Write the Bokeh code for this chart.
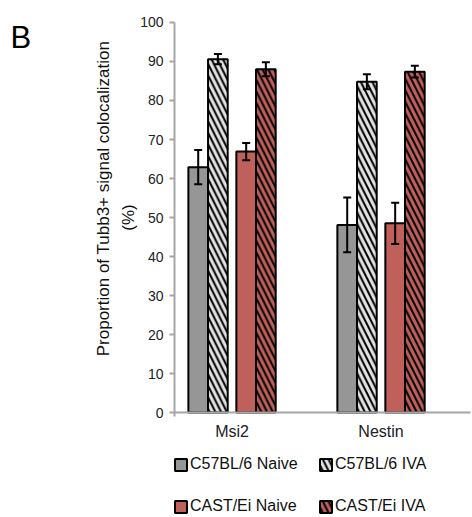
from math import pi
from bokeh.plotting import figure
from bokeh.models import (ColumnDataSource, Range1d, FixedTicker, Whisker, TeeHead,
                          Legend, LegendItem, Label)
from bokeh.embed import file_html
from bokeh.resources import INLINE

# ---------------- data ----------------
categories = ["Msi2", "Nestin"]
series_names = ["C57BL/6 Naive", "C57BL/6 IVA", "CAST/Ei Naive", "CAST/Ei IVA"]
c57_naive = [62.9, 48.1]
c57_naive_err = [4.4, 7.0]
c57_iva = [90.6, 84.8]
c57_iva_err = [1.3, 1.9]
cast_naive = [66.9, 48.5]
cast_naive_err = [2.2, 5.3]
cast_iva = [88.0, 87.4]
cast_iva_err = [1.8, 1.5]
y_ticks = [0, 10, 20, 30, 40, 50, 60, 70, 80, 90, 100]
y_title_1 = "Proportion of Tubb3+ signal colocalization"
y_title_2 = "(%)"
panel_letter = "B"

FONT = "Liberation Sans"
GRAY = "#969696"
RED = "#c0605a"
LIGHT = "#e4e4e4"
AXIS_GRAY = "#a6a6a6"

W, H = 472, 517
X0 = -0.386          # x position of the value axis
X1 = 1.60            # right end of the category axis line
p = figure(width=W, height=H, output_backend="svg", toolbar_location=None,
           x_range=Range1d(-1.554, 1.614), y_range=Range1d(-26.92, 105.64),
           min_border=0, min_border_left=0, min_border_right=0,
           min_border_top=0, min_border_bottom=0)
p.outline_line_color = None
p.grid.grid_line_color = None
p.background_fill_color = "white"
p.border_fill_color = "white"

offsets = [-0.227, -0.095, 0.095, 0.227]
bar_w = 0.132
styles = [
    dict(fill_color=GRAY),
    dict(fill_color=LIGHT, hatch_pattern="\\", hatch_color="black", hatch_scale=11.5, hatch_weight=2),
    dict(fill_color=RED),
    dict(fill_color=RED, hatch_pattern="\\", hatch_color="black", hatch_scale=11.5, hatch_weight=2),
]
vals = [c57_naive, c57_iva, cast_naive, cast_iva]
errs = [c57_naive_err, c57_iva_err, cast_naive_err, cast_iva_err]

renderers = []
for k in range(4):
    xs = [i + offsets[k] for i in range(len(categories))]
    src = ColumnDataSource(dict(
        x=xs, top=vals[k],
        lower=[v - e for v, e in zip(vals[k], errs[k])],
        upper=[v + e for v, e in zip(vals[k], errs[k])],
    ))
    r = p.vbar(x="x", top="top", width=bar_w, source=src, line_color="black",
               line_width=2, **styles[k])
    renderers.append(r)
    w = Whisker(base="x", lower="lower", upper="upper", source=src,
                line_color="black", line_width=2, level="overlay",
                upper_head=TeeHead(size=8, line_color="black", line_width=2),
                lower_head=TeeHead(size=8, line_color="black", line_width=2))
    p.add_layout(w)

# axes (placed inside the frame at fixed data locations)
for ax in (p.xaxis[0], p.yaxis[0]):
    ax.axis_line_color = AXIS_GRAY
    ax.axis_line_width = 2
    ax.major_tick_line_color = AXIS_GRAY
    ax.major_tick_line_width = 2
    ax.minor_tick_line_color = None
    ax.major_label_text_font = FONT
    ax.major_label_text_color = "#222222"

yax = p.yaxis[0]
yax.fixed_location = X0
yax.bounds = (-0.9, 100)
yax.ticker = FixedTicker(ticks=y_ticks)
yax.major_tick_out = 5
yax.major_tick_in = 0
yax.major_label_text_font_size = "14px"
yax.major_label_standoff = 6

xax = p.xaxis[0]
xax.fixed_location = 0
xax.bounds = (X0, X1)
xax.ticker = FixedTicker(ticks=list(range(len(categories))))
xax.major_label_overrides = {i: c for i, c in enumerate(categories)}
xax.major_tick_out = 0
xax.major_tick_in = 0
xax.major_label_text_font_size = "16px"
xax.major_label_standoff = 10

# titles
p.add_layout(Label(x=103, y=319, x_units="screen", y_units="screen",
                   text=y_title_1, angle=pi / 2,
                   text_align="center", text_baseline="middle",
                   text_font=FONT, text_font_size="17px", text_color="#111111"))
p.add_layout(Label(x=128, y=300, x_units="screen", y_units="screen",
                   text=y_title_2, angle=pi / 2,
                   text_align="center", text_baseline="middle",
                   text_font=FONT, text_font_size="17px", text_color="#111111"))
p.add_layout(Label(x=10, y=480, x_units="screen", y_units="screen",
                   text=panel_letter, text_align="left", text_baseline="alphabetic",
                   text_font=FONT, text_font_size="31px", text_color="black"))

# legends: two columns
def make_legend(idx, xloc):
    lg = Legend(items=[LegendItem(label=series_names[i], renderers=[renderers[i]]) for i in idx],
                location=(xloc, 2), orientation="vertical",
                glyph_width=15, glyph_height=15, label_height=15, label_standoff=2,
                spacing=24, padding=0, margin=0, border_line_color=None,
                background_fill_alpha=0, label_text_font=FONT,
                label_text_font_size="16px", label_text_color="#111111")
    p.add_layout(lg)

make_legend([0, 2], 173)
make_legend([1, 3], 318)

open("out.html", "w").write(file_html(p, INLINE))
